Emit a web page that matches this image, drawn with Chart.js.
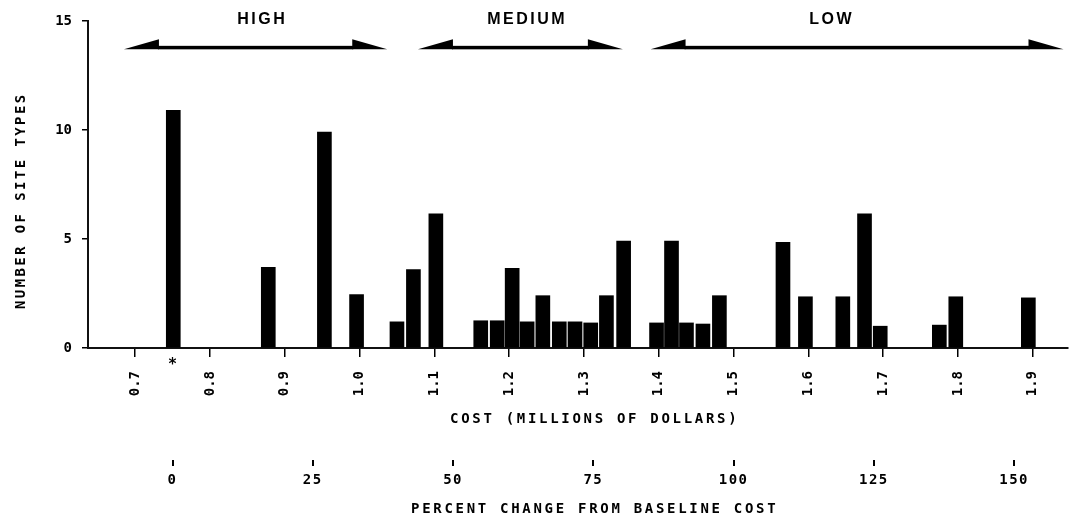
<!DOCTYPE html>
<html>
<head>
<meta charset="utf-8">
<title>Site types by cost</title>
<script src="https://cdn.jsdelivr.net/npm/chart.js@4.4.1/dist/chart.umd.min.js"></script>
<style>
  html, body { margin: 0; padding: 0; background: #fff; }
  #wrap { position: relative; width: 1074px; height: 524px; }
</style>
</head>
<body>
<div id="wrap"><canvas id="costChart"></canvas></div>
<script>
// Cost of each site type (millions of dollars) and how many site types fall there
const costs = [0.751, 0.878, 0.953, 0.996, 1.050, 1.072, 1.102, 1.162, 1.184, 1.204,
               1.224, 1.245, 1.267, 1.288, 1.309, 1.330, 1.353, 1.397, 1.417, 1.437,
               1.459, 1.481, 1.566, 1.596, 1.646, 1.675, 1.696, 1.775, 1.797, 1.894];
const siteTypes = [10.9, 3.7, 9.9, 2.45, 1.2, 3.6, 6.15, 1.25, 1.25, 3.65,
                   1.2, 2.4, 1.2, 1.2, 1.15, 2.4, 4.9, 1.15, 4.9, 1.15,
                   1.1, 2.4, 4.85, 2.35, 2.35, 6.15, 1.0, 1.05, 2.35, 2.3];

// Axis ticks
const costTicks = [0.7, 0.8, 0.9, 1.0, 1.1, 1.2, 1.3, 1.4, 1.5, 1.6, 1.7, 1.8, 1.9];
const percentTicks = [0, 25, 50, 75, 100, 125, 150];
const countTicks = [0, 5, 10, 15];

// Baseline cost (marked with *) and the cost range shown
const baselineCost = 0.75;
const costMin = 0.637;
const costMax = 1.947;

// HIGH / MEDIUM / LOW bands along the cost axis
const bandNames = ['HIGH', 'MEDIUM', 'LOW'];
const bandStart = [0.685, 1.078, 1.389];
const bandEnd = [1.037, 1.352, 1.941];
const bandLabelAt = [0.870, 1.224, 1.631];

const toPercent = c => (c / baselineCost - 1) * 100;

const MONO = '"DejaVu Sans Mono", monospace';
Chart.defaults.font.family = MONO;
Chart.defaults.color = '#000';

// letter spacing per scale: [tick labels, title]
const spacing = { x: ['0px', '2.7px'], y: ['0px', '2.4px'], x2: ['1.5px', '2.7px'] };

const spacingPlugin = {
  id: 'spacing',
  afterLayout(chart) {
    Object.keys(spacing).forEach(id => {
      const s = chart.scales[id];
      if (!s || s._spaced) return;
      const wrap = (fn, sp) => function (...args) {
        const c = this.ctx;
        const old = c.letterSpacing;
        c.letterSpacing = sp;
        fn.apply(this, args);
        c.letterSpacing = old;
      };
      s.drawLabels = wrap(s.drawLabels, spacing[id][0]);
      s.drawTitle = wrap(s.drawTitle, spacing[id][1]);
      s._spaced = true;
    });
  }
};

// double-headed band arrows, band names and the baseline asterisk
const bandPlugin = {
  id: 'bands',
  afterDraw(chart) {
    const { ctx, scales: { x, y } } = chart;
    const HEAD = 35, HEAD_H = 10, SHAFT = 3.5;
    ctx.save();
    ctx.fillStyle = '#000';
    bandNames.forEach((name, i) => {
      const x0 = x.getPixelForValue(bandStart[i]);
      const x1 = x.getPixelForValue(bandEnd[i]);
      const yb = y.getPixelForValue(13.7);
      ctx.fillRect(x0 + HEAD - 1, yb - SHAFT, (x1 - x0) - 2 * HEAD + 2, SHAFT);
      ctx.beginPath();
      ctx.moveTo(x0, yb);
      ctx.lineTo(x0 + HEAD, yb - HEAD_H);
      ctx.lineTo(x0 + HEAD, yb);
      ctx.closePath();
      ctx.fill();
      ctx.beginPath();
      ctx.moveTo(x1, yb);
      ctx.lineTo(x1 - HEAD, yb - HEAD_H);
      ctx.lineTo(x1 - HEAD, yb);
      ctx.closePath();
      ctx.fill();

      ctx.font = 'bold 16px "Liberation Sans", Arial, sans-serif';
      ctx.letterSpacing = '2.5px';
      ctx.textAlign = 'center';
      ctx.textBaseline = 'middle';
      ctx.fillText(name, x.getPixelForValue(bandLabelAt[i]), y.getPixelForValue(15.05));
    });
    ctx.letterSpacing = '0px';
    ctx.font = 'bold 15px ' + MONO;
    ctx.textAlign = 'center';
    ctx.textBaseline = 'middle';
    ctx.fillText('*', x.getPixelForValue(baselineCost), y.bottom + 17);
    ctx.restore();
  }
};

new Chart(document.getElementById('costChart'), {
  type: 'bar',
  data: {
    datasets: [{
      data: costs.map((c, i) => ({ x: c, y: siteTypes[i] })),
      backgroundColor: '#000',
      borderWidth: 0,
      barThickness: 14
    }]
  },
  options: {
    responsive: true,
    maintainAspectRatio: false,
    animation: false,
    layout: { padding: { top: 21, right: 6, bottom: 0, left: 0 } },
    plugins: { legend: { display: false }, tooltip: { enabled: false } },
    scales: {
      x: {
        type: 'linear',
        position: 'bottom',
        min: costMin,
        max: costMax,
        offset: false,
        afterBuildTicks: s => { s.ticks = costTicks.map(v => ({ value: v })); },
        afterFit: s => { s.height = 112; },
        grid: { offset: false, drawOnChartArea: false, drawTicks: true, tickLength: 9, color: '#000', lineWidth: 1.5 },
        border: { display: true, color: '#111', width: 2 },
        ticks: {
          autoSkip: false,
          minRotation: 90,
          maxRotation: 90,
          padding: 14,
          font: { size: 14, weight: 'bold' },
          callback: v => Number(v).toFixed(1)
        },
        title: {
          display: true,
          text: '   COST (MILLIONS OF DOLLARS)',
          font: { size: 14, weight: 'bold' },
          padding: { top: 0, bottom: 32 }
        }
      },
      x2: {
        type: 'linear',
        position: 'bottom',
        weight: 1,
        min: toPercent(costMin),
        max: toPercent(costMax),
        offset: false,
        afterBuildTicks: s => { s.ticks = percentTicks.map(v => ({ value: v })); },
        afterFit: s => { s.height = 64; },
        grid: { offset: false, drawOnChartArea: false, drawTicks: true, tickLength: 6, color: '#000', lineWidth: 2 },
        border: { display: false },
        ticks: { autoSkip: false, maxRotation: 0, padding: 6, font: { size: 14, weight: 'bold' }, callback: v => String(v) },
        title: {
          display: true,
          text: '   PERCENT CHANGE FROM BASELINE COST',
          font: { size: 14, weight: 'bold' },
          padding: { top: 0, bottom: 6 }
        }
      },
      y: {
        min: 0,
        max: 15,
        afterBuildTicks: s => { s.ticks = countTicks.map(v => ({ value: v })); },
        afterFit: s => { s.width = 88; },
        grid: { drawOnChartArea: false, drawTicks: true, tickLength: 6, color: '#000', lineWidth: 1.5 },
        border: { display: true, color: '#111', width: 2 },
        ticks: { padding: 10, font: { size: 14, weight: 'bold' } },
        title: {
          display: true,
          text: 'NUMBER OF SITE TYPES   ',
          font: { size: 14, weight: 'bold' },
          padding: { top: 13, bottom: 0 }
        }
      }
    }
  },
  plugins: [spacingPlugin, bandPlugin]
});
</script>
</body>
</html>
